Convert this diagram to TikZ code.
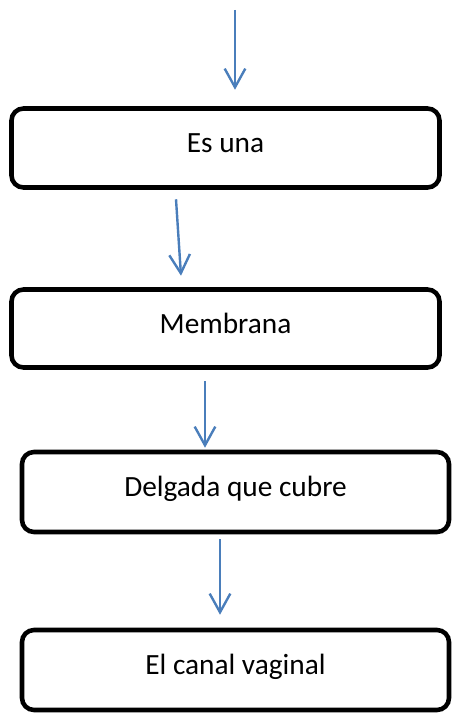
\documentclass[tikz,border=0pt]{standalone}
\usepackage{fontspec}
\setmainfont{Carlito}
\usetikzlibrary{arrows.meta}
\definecolor{arrblue}{RGB}{74,126,187}
\begin{document}
\begin{tikzpicture}[x=0.75pt,y=-0.75pt,
  box/.style={draw=black, line width=3.4pt, rounded corners=9pt, fill=white,
    inner sep=0pt, text height=15pt, text depth=8pt,
    font=\fontsize{22}{26}\selectfont},
  arr/.style={draw=arrblue, line width=1.8pt,
    -{Straight Barb[length=14pt,width=15.5pt,line width=1.8pt]}}]
\useasboundingbox (0,0) rectangle (454,720);
\node[box, minimum width=321pt, minimum height=59.25pt] (b1) at (225.5,148) {Es una};
\node[box, minimum width=321pt, minimum height=58.5pt] (b2) at (225.5,328.5) {Membrana};
\node[box, minimum width=320.25pt, minimum height=60pt] (b3) at (235.5,492) {Delgada que cubre};
\node[box, minimum width=320.25pt, minimum height=60pt] (b4) at (235.5,670) {El canal vaginal};
\coordinate (top) at (235,10);
\draw[arr] (top) -- ([shift={(9.5,-16.5)}]b1.north);
\draw[arr] ([shift={(-49.5,9.5)}]b1.south) -- ([shift={(-44.5,-11.5)}]b2.north);
\draw[arr] ([shift={(-20.5,11.5)}]b2.south) -- ([shift={(-30.5,-2)}]b3.north);
\draw[arr] ([shift={(-15.5,5)}]b3.south) -- ([shift={(-15.5,-13)}]b4.north);
\end{tikzpicture}
\end{document}
